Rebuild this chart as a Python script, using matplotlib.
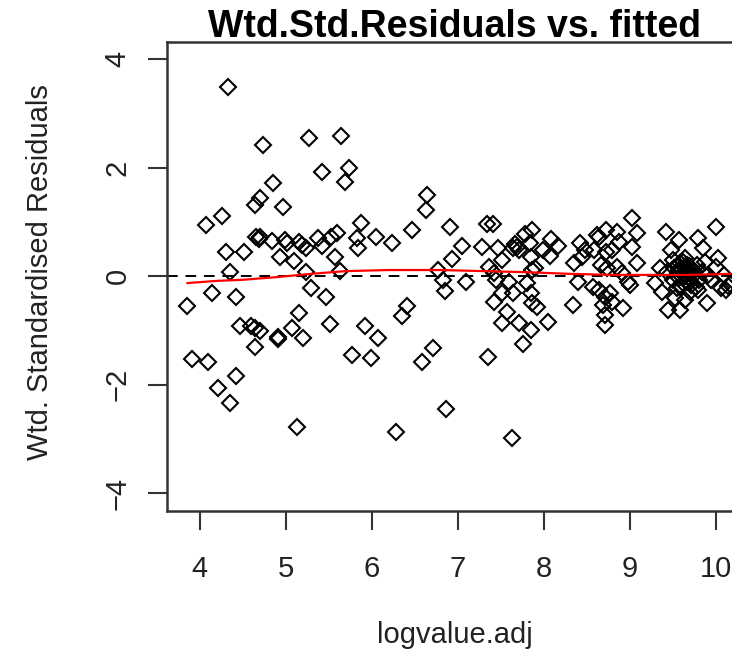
import matplotlib
matplotlib.use("Agg")
import matplotlib.pyplot as plt

# ---- data ----
fitted = [3.86, 3.91, 4.08, 4.10, 4.14, 4.26, 4.22, 4.33, 4.31, 4.35,
          4.35, 4.42, 4.42, 4.47, 4.52, 4.60, 4.64, 4.64, 4.70, 4.66,
          4.70, 4.69, 4.74, 4.64, 4.70, 4.85, 4.84, 4.91, 4.91, 4.97,
          4.94, 4.99, 5.02, 5.08, 5.13, 5.10, 5.16, 5.19, 5.20, 5.16,
          5.27, 5.24, 5.24, 5.30, 5.38, 5.43, 5.47, 5.42, 5.52, 5.53,
          5.60, 5.65, 5.74, 5.69, 5.63, 5.58, 5.77, 5.83, 5.84, 5.88,
          5.93, 5.99, 6.05, 6.07, 6.24, 6.29, 6.35, 6.41, 6.47, 6.59,
          6.63, 6.65, 6.71, 6.77, 6.83, 6.85, 6.87, 6.91, 6.94, 7.05,
          7.10, 7.29, 7.34, 7.41, 7.35, 7.47, 7.37, 7.43, 7.45, 7.43,
          7.52, 7.52, 7.52, 7.58, 7.60, 7.64, 7.63, 7.64, 7.69, 7.72,
          7.67, 7.72, 7.76, 7.78, 7.81, 7.84, 7.86, 7.87, 7.86, 7.87,
          7.86, 7.87, 7.90, 7.93, 7.99, 8.05, 8.07, 8.09, 8.17, 8.34,
          8.36, 8.40, 8.42, 8.45, 8.48, 8.57, 8.59, 8.62, 8.65, 8.65,
          8.67, 8.69, 8.71, 8.71, 8.71, 8.73, 8.73, 8.74, 8.77, 8.80,
          8.80, 8.85, 8.86, 8.88, 8.91, 8.92, 8.98, 9.00, 9.03, 9.03,
          9.09, 9.09, 9.42, 9.48, 9.57, 9.80, 9.86, 10.01, 10.03, 10.00,
          9.51, 9.45, 9.59, 9.53, 9.90, 9.80, 10.06, 10.12, 10.17, 9.62,
          9.50, 9.56, 9.67, 9.62, 9.70, 9.56, 9.64, 9.58, 9.72, 9.65,
          9.57, 9.74, 9.52, 9.67, 9.60, 9.79, 9.81, 9.44, 9.35, 9.30,
          9.38, 9.91, 9.88, 9.95, 9.70, 9.65, 10.10, 9.61, 9.66, 9.69,
          9.63, 9.59, 9.68, 9.75, 9.71, 9.55, 9.64, 9.77, 9.84, 10.14]
std_residuals = [-0.55, -1.53, 0.94, -1.59, -0.31, 1.11, -2.06, 3.48, 0.44, 0.07,
                 -2.34, -1.84, -0.39, -0.92, 0.44, -0.92, -1.31, 1.31, 1.44, 0.72,
                 0.72, 0.68, 2.41, -0.96, -1.01, 1.71, 0.65, -1.12, -1.16, 1.27,
                 0.35, 0.66, 0.61, -0.96, -2.78, 0.28, 0.63, 0.57, -1.14, -0.68,
                 2.54, 0.07, 0.52, -0.22, 0.70, 1.92, -0.39, 0.55, -0.88, 0.72,
                 0.79, 2.58, 1.99, 1.73, 0.09, 0.35, -1.46, 0.70, 0.52, 0.98,
                 -0.92, -1.51, 0.72, -1.14, 0.61, -2.88, -0.74, -0.55, 0.85, -1.59,
                 1.22, 1.49, -1.33, 0.11, -0.07, -0.28, -2.45, 0.90, 0.31, 0.55,
                 -0.11, 0.53, 0.96, 0.96, -1.49, 0.52, 0.17, 0.06, -0.07, -0.48,
                 -0.31, 0.29, -0.87, -0.66, -0.11, -0.31, -2.99, 0.52, 0.53, 0.48,
                 0.59, -0.87, -1.25, 0.77, -0.13, 0.61, -0.31, -0.50, -1.00, 0.85,
                 0.35, 0.11, 0.15, -0.57, 0.48, -0.85, 0.37, 0.68, 0.55, -0.53,
                 0.24, -0.11, 0.61, 0.35, 0.48, -0.20, 0.48, 0.76, 0.72, -0.26,
                 0.20, -0.53, -0.39, -0.72, -0.90, 0.85, 0.44, 0.15, -0.31, 0.48,
                 -0.48, 0.17, 0.81, 0.63, 0.06, -0.59, -0.11, -0.17, 1.07, 0.53,
                 0.79, 0.24, 0.81, 0.48, 0.66, 0.70, 0.52, 0.90, 0.33, 0.17,
                 0.29, -0.63, -0.63, -0.41, -0.50, -0.26, -0.22, -0.26, -0.15, -0.13,
                 -0.07, 0.20, 0.20, 0.26, 0.07, 0.06, 0.00, -0.04, 0.15, 0.33,
                 0.11, 0.00, 0.15, -0.11, -0.18, 0.20, -0.07, 0.07, 0.15, -0.13,
                 -0.29, 0.02, 0.26, -0.07, -0.29, -0.44, 0.02, 0.13, 0.09, 0.18,
                 0.04, 0.24, -0.02, 0.10, -0.16, -0.22, 0.17, -0.20, 0.07, -0.19]

# smoother (red line)
smooth_x = [3.86, 4.2, 4.5, 4.9, 5.3, 5.7, 6.2, 6.8, 7.3, 7.8, 8.3, 8.8, 9.3, 9.7, 10.17]
smooth_y = [-0.13, -0.09, -0.07, -0.02, 0.04, 0.09, 0.11, 0.11, 0.09, 0.07, 0.04, 0.02, 0.02, 0.02, 0.04]

x_ticks = [4, 5, 6, 7, 8, 9, 10]
y_ticks = [-4, -2, 0, 2, 4]
title = "Wtd.Std.Residuals vs. fitted"
x_label = "logvalue.adj"
y_label = "Wtd. Standardised Residuals"

# ---- drawing ----
plt.rcParams['font.family'] = ['Liberation Sans', 'DejaVu Sans']
W, H = 732, 653
fig = plt.figure(figsize=(W / 100, H / 100), dpi=100)
fig.patch.set_facecolor('white')

ax = fig.add_axes([167 / W, (H - 511) / H, (752 - 167) / W, (511 - 42) / H])
ax.set_xlim(3.622, 3.622 + 585 / 86)
ax.set_ylim(-(511 - 276) / 54.25, (276 - 42) / 54.25)

ax.axhline(0, color='black', lw=1.4, dashes=[5.5, 4], zorder=1)
ax.plot(fitted, std_residuals, linestyle='none', marker='D', ms=8.3,
        mfc='none', mec='black', mew=1.5, zorder=2)
ax.plot(smooth_x, smooth_y, color='red', lw=1.6, zorder=3)

for s in ax.spines.values():
    s.set_linewidth(1.8)
    s.set_color('#333333')

ax.set_xticks(x_ticks)
ax.set_yticks(y_ticks)
ax.tick_params(direction='out', length=13.5, width=1.5, color='#333333',
               labelsize=21, labelcolor='#222222')
ax.tick_params(axis='x', pad=18)
ax.tick_params(axis='y', pad=12, labelrotation=90)
for lab in ax.get_yticklabels():
    lab.set_va('center')

fig.text(455 / W, 1 - 37 / H, title, ha='center', va='baseline',
         fontsize=27, fontweight='bold', color='black')
fig.text(455 / W, 1 - 643 / H, x_label, ha='center', va='baseline',
         fontsize=21, color='#222222')
fig.text(40 / W, 1 - 272 / H, y_label, ha='center', va='center',
         rotation=90, fontsize=21, color='#222222')

fig.savefig('out.png', dpi=100)
